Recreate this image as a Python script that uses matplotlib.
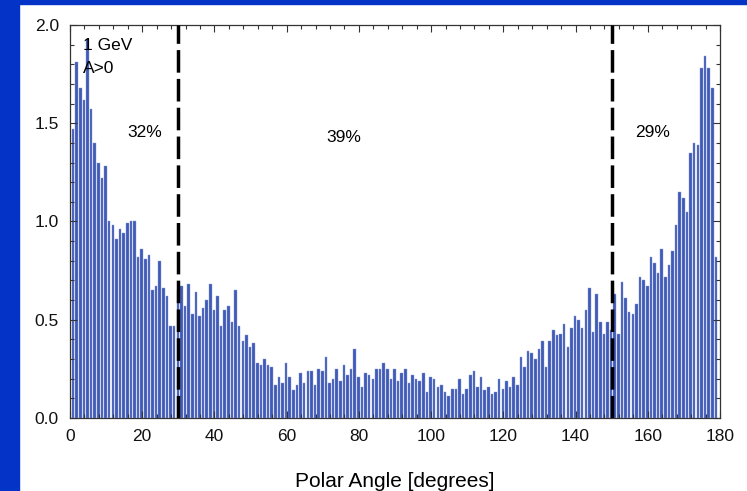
import numpy as np
import matplotlib
matplotlib.use("Agg")
import matplotlib.pyplot as plt
from matplotlib.ticker import MultipleLocator
from matplotlib.patches import Rectangle

plt.rcParams['font.family'] = ['Liberation Sans', 'DejaVu Sans']

# yield per 1-degree bin of polar angle
yields = [
    1.47, 1.81, 1.68, 1.62, 1.93, 1.57, 1.40, 1.30, 1.22, 1.28,
    1.00, 0.98, 0.91, 0.96, 0.94, 0.99, 1.00, 1.00, 0.82, 0.86,
    0.81, 0.83, 0.65, 0.67, 0.80, 0.66, 0.62, 0.47, 0.47, 0.65,
    0.67, 0.57, 0.68, 0.53, 0.64, 0.52, 0.56, 0.60, 0.68, 0.55,
    0.62, 0.47, 0.55, 0.57, 0.49, 0.65, 0.47, 0.39, 0.42, 0.36,
    0.38, 0.28, 0.27, 0.30, 0.27, 0.26, 0.17, 0.21, 0.18, 0.28,
    0.21, 0.14, 0.17, 0.23, 0.18, 0.24, 0.24, 0.17, 0.25, 0.24,
    0.31, 0.18, 0.20, 0.25, 0.19, 0.27, 0.22, 0.25, 0.35, 0.21,
    0.16, 0.23, 0.22, 0.20, 0.25, 0.25, 0.28, 0.25, 0.20, 0.25,
    0.19, 0.23, 0.25, 0.18, 0.22, 0.20, 0.19, 0.23, 0.13, 0.21,
    0.20, 0.16, 0.17, 0.13, 0.11, 0.15, 0.15, 0.20, 0.12, 0.15,
    0.22, 0.24, 0.16, 0.21, 0.14, 0.16, 0.12, 0.13, 0.20, 0.15,
    0.19, 0.16, 0.21, 0.17, 0.31, 0.26, 0.34, 0.33, 0.30, 0.35,
    0.39, 0.26, 0.39, 0.45, 0.42, 0.43, 0.48, 0.36, 0.46, 0.52,
    0.50, 0.46, 0.55, 0.66, 0.44, 0.63, 0.49, 0.43, 0.49, 0.45,
    0.63, 0.43, 0.69, 0.61, 0.54, 0.53, 0.58, 0.72, 0.70, 0.67,
    0.82, 0.79, 0.74, 0.86, 0.72, 0.78, 0.85, 0.98, 1.15, 1.12,
    1.05, 1.35, 1.40, 1.39, 1.78, 1.84, 1.78, 1.68, 0.82,
]
angles = np.arange(len(yields))  # bin start in degrees

cuts = [30, 150]
fractions = ["32%", "39%", "29%"]
frac_pos = [(20.8, 1.455), (75.7, 1.43), (161.4, 1.455)]

fig = plt.figure(figsize=(7.47, 4.91), dpi=100)
fig.patch.set_facecolor('white')
# blue slide border on the left and top
fig.patches.append(Rectangle((0, 0), 19 / 747, 1, transform=fig.transFigure,
                             color='#0433c8', zorder=0))
fig.patches.append(Rectangle((0, 1 - 4 / 491), 1, 4 / 491, transform=fig.transFigure,
                             color='#0433c8', zorder=0))

ax = fig.add_axes([70 / 747, 1 - 418 / 491, 650 / 747, 393 / 491])

ax.bar(angles + 0.5, yields, width=0.7, align='edge', color='#3f5ab7',
       edgecolor='#8a9bd6', linewidth=0.3)

for c in cuts:
    ax.axvline(c, color='black', lw=2.5, ls=(0, (6.5, 1.8)), zorder=5)

ax.set_xlim(0, 180)
ax.set_ylim(0, 2.0)
ax.xaxis.set_major_locator(MultipleLocator(20))
ax.xaxis.set_minor_locator(MultipleLocator(4))
ax.yaxis.set_major_locator(MultipleLocator(0.5))
ax.yaxis.set_minor_locator(MultipleLocator(0.1))
ax.yaxis.set_major_formatter(plt.FuncFormatter(lambda v, p: f"{v:.1f}"))
ax.tick_params(which='both', direction='in', top=True, right=True,
               labelsize=12.5, width=0.8, colors='#333333', labelcolor='#111111')
ax.tick_params(which='major', length=5, pad=8)
ax.tick_params(which='minor', length=3)
for s in ax.spines.values():
    s.set_color('#333333')
    s.set_linewidth(0.9)

ax.text(3.6, 1.898, "1 GeV", fontsize=12.5, va='center', ha='left')
ax.text(3.6, 1.781, "A>0", fontsize=12.5, va='center', ha='left')
for txt, (x, y) in zip(fractions, frac_pos):
    ax.text(x, y, txt, fontsize=12.5, ha='center', va='center')

ax.set_xlabel("Polar Angle [degrees]", fontsize=15, labelpad=20)

fig.savefig("out.png", dpi=100)
